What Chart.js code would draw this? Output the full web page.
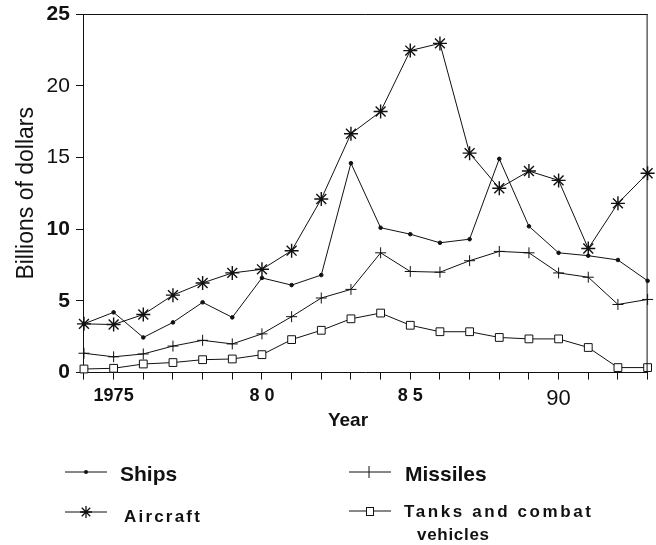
<!DOCTYPE html>
<html>
<head>
<meta charset="utf-8">
<script src="https://cdn.jsdelivr.net/npm/chart.js@4.4.0/dist/chart.umd.min.js"></script>
<style>
  html, body { margin: 0; padding: 0; background: #fff; }
  #wrap { width: 656px; height: 545px; }
</style>
</head>
<body>
<div id="wrap"><canvas id="procurementChart" width="656" height="545"></canvas></div>
<script>
// values, billions of dollars
const years = [1974, 1975, 1976, 1977, 1978, 1979, 1980, 1981, 1982, 1983,
               1984, 1985, 1986, 1987, 1988, 1989, 1990, 1991, 1992, 1993];
const ships = [3.4, 4.2, 2.45, 3.5, 4.9, 3.85, 6.6, 6.1, 6.8, 14.6,
               10.1, 9.65, 9.05, 9.3, 14.9, 10.2, 8.35, 8.15, 7.85, 6.4];
const aircraft = [3.4, 3.35, 4.05, 5.4, 6.25, 6.95, 7.2, 8.5, 12.1, 16.65,
                  18.2, 22.45, 22.95, 15.3, 12.85, 14.05, 13.4, 8.65, 11.8, 13.9];
const missiles = [1.35, 1.1, 1.3, 1.85, 2.25, 2.0, 2.7, 3.9, 5.2, 5.8,
                  8.35, 7.05, 7.0, 7.8, 8.45, 8.35, 6.95, 6.65, 4.75, 5.1];
const tanks = [0.25, 0.3, 0.6, 0.7, 0.9, 0.95, 1.25, 2.3, 2.95, 3.75,
               4.15, 3.3, 2.85, 2.85, 2.45, 2.35, 2.35, 1.75, 0.35, 0.35];

const xTickYears = [1975, 1980, 1985, 1990];
const xTickText = ["1975", "8 0", "8 5", "90"];
const regularYTicks = [15, 20];

const FONT = "'Liberation Sans', Arial, sans-serif";
const INK = "#111";

function drawAsterisk(ctx, x, y, r) {
  ctx.beginPath();
  for (let i = 0; i < 4; i++) {
    const a = i * Math.PI / 4;
    ctx.moveTo(x - Math.cos(a) * r, y - Math.sin(a) * r);
    ctx.lineTo(x + Math.cos(a) * r, y + Math.sin(a) * r);
  }
  ctx.stroke();
}

// frame, "Year" title and the two-column legend
const extras = {
  id: "extras",
  afterDraw(chart) {
    const ctx = chart.ctx;
    const area = chart.chartArea;
    ctx.save();
    ctx.strokeStyle = INK;
    ctx.lineWidth = 1;
    ctx.beginPath();
    ctx.moveTo(area.left, area.top + 0.5);
    ctx.lineTo(area.right, area.top + 0.5);
    ctx.moveTo(area.right - 0.5, area.top);
    ctx.lineTo(area.right - 0.5, area.bottom);
    ctx.stroke();

    ctx.fillStyle = INK;
    ctx.textBaseline = "middle";
    ctx.textAlign = "center";
    ctx.font = "bold 19px " + FONT;
    ctx.fillText("Year", 348, 421);

    ctx.textAlign = "left";
    // legend symbols
    ctx.lineWidth = 1;
    const seg = (x1, x2, y) => {
      ctx.beginPath();
      ctx.moveTo(x1, y);
      ctx.lineTo(x2, y);
      ctx.stroke();
    };
    seg(65, 107, 472);
    ctx.beginPath();
    ctx.arc(86, 472, 2, 0, Math.PI * 2);
    ctx.fill();

    seg(65, 107, 512);
    ctx.lineWidth = 1.3;
    drawAsterisk(ctx, 86, 512, 6);
    ctx.lineWidth = 1;

    seg(349, 391, 472);
    ctx.beginPath();
    ctx.moveTo(369, 466);
    ctx.lineTo(369, 478);
    ctx.stroke();

    seg(349, 391, 511);
    ctx.fillStyle = "#fff";
    ctx.fillRect(366, 507, 8, 9);
    ctx.strokeRect(366.5, 507.5, 7, 8);
    ctx.fillStyle = INK;

    // legend labels
    ctx.font = "bold 21px " + FONT;
    ctx.fillText("Ships", 120, 475);
    ctx.fillText("Missiles", 405, 475);
    ctx.font = "bold 17px " + FONT;
    ctx.letterSpacing = "2.2px";
    ctx.fillText("Aircraft", 124, 517);
    ctx.letterSpacing = "2.6px";
    ctx.fillText("Tanks and combat", 404, 512);
    ctx.letterSpacing = "0.7px";
    ctx.fillText("vehicles", 417, 535);
    ctx.restore();
  },
};

function series(label, data, style) {
  return Object.assign({
    label: label,
    data: data,
    borderColor: INK,
    borderWidth: 1,
    pointBorderColor: INK,
    pointBackgroundColor: INK,
    pointBorderWidth: 1,
    tension: 0,
    clip: false,
  }, style);
}

const ctx = document.getElementById("procurementChart").getContext("2d");
new Chart(ctx, {
  type: "line",
  data: {
    labels: years,
    datasets: [
      series("Tanks and combat vehicles", tanks, {
        pointStyle: "rect", pointRadius: 5.5, pointBackgroundColor: "#fff",
      }),
      series("Missiles", missiles, { pointStyle: "cross", pointRadius: 5.5 }),
      series("Ships", ships, { pointStyle: "circle", pointRadius: 1.8 }),
      series("Aircraft", aircraft, {
        pointStyle: "star", pointRadius: 7, pointBorderWidth: 1.4,
      }),
    ],
  },
  options: {
    responsive: false,
    animation: false,
    events: [],
    layout: { padding: { left: 10, right: 7, top: 14, bottom: 127 } },
    plugins: {
      legend: { display: false },
      tooltip: { enabled: false },
    },
    scales: {
      x: {
        type: "category",
        offset: false,
        border: { color: INK, width: 1 },
        grid: { drawOnChartArea: false, tickLength: 7, color: INK },
        ticks: {
          autoSkip: false,
          maxRotation: 0,
          padding: 6,
          color: INK,
          callback: function (value, index) {
            const k = xTickYears.indexOf(years[index]);
            return k < 0 ? "" : xTickText[k];
          },
          font: (c) => {
            if (c.index !== undefined && years[c.index] === 1990) {
              return { family: FONT, size: 22, weight: "normal" };
            }
            return { family: FONT, size: 18, weight: "bold" };
          },
        },
      },
      y: {
        min: 0,
        max: 25,
        border: { color: INK, width: 1 },
        grid: { drawOnChartArea: false, tickLength: 8, color: INK },
        // let the top of the plot sit at the layout padding, not half a label lower
        afterFit: (scale) => {
          scale.paddingTop = 0;
          scale.paddingBottom = 0;
        },
        ticks: {
          stepSize: 5,
          padding: 6,
          color: INK,
          font: (c) => {
            const v = c.tick ? c.tick.value : 0;
            return { family: FONT, size: 21, weight: regularYTicks.includes(v) ? "normal" : "bold" };
          },
        },
        title: {
          display: true,
          text: "Billions of dollars",
          color: INK,
          font: { family: FONT, size: 23 },
          padding: { top: 3, bottom: 0 },
        },
      },
    },
  },
  plugins: [extras],
});
</script>
</body>
</html>
